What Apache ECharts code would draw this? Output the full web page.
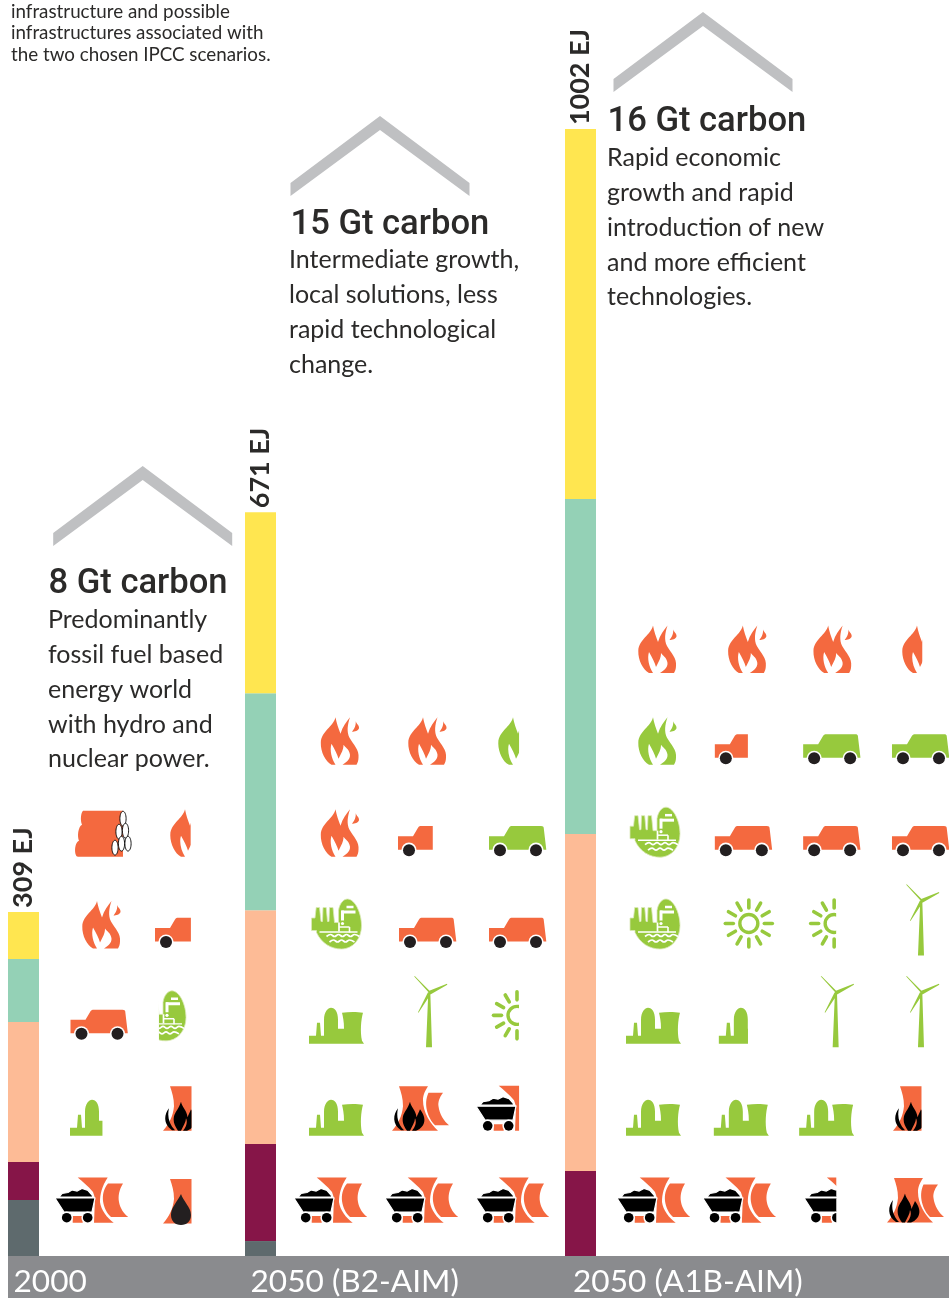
<!DOCTYPE html>
<html><head><meta charset="utf-8"><style>html,body{margin:0;padding:0;background:#fff}#c{width:949px;height:1298px}</style>
<script src="https://cdn.jsdelivr.net/npm/echarts@6/dist/echarts.min.js"></script></head>
<body><div id="c"></div><script>
// ---------- data ----------
const categories = ['2000', '2050 (B2-AIM)', '2050 (A1B-AIM)'];
const totalLabels = ['309 EJ', '671 EJ', '1002 EJ'];
const greyBand   = [49.8, 13.3, 0];
const maroonBand = [33.8, 86.2, 75.6];
const peachBand  = [124.5, 208, 299.6];
const tealBand   = [56, 192.9, 297.8];
const yellowBand = [41.8, 160.9, 328.9];
const axisMax = 1002;
// pictograms, top row first: [glyph, tone, visible share (negative keeps the right part)]
const icons2000 = [
  [['wood','o',1],['flame','o',0.53]],
  [['flame','o',1],['car','o',0.63]],
  [['car','o',1],['hydro','g',-0.55]],
  [['nuclear','g',0.59],['gas','o',0.5]],
  [['coal','o',1],['oil','o',0.5]]
];
const iconsB2 = [
  [['flame','o',1],['flame','o',1],['flame','g',0.54]],
  [['flame','o',1],['car','o',0.61],['car','g',1]],
  [['hydro','g',1],['car','o',1],['car','o',1]],
  [['nuclear','g',1],['wind','g',1],['sun','g',0.54]],
  [['nuclear','g',1],['gas','o',1],['coal','o',0.59]],
  [['coal','o',1],['coal','o',1],['coal','o',1]]
];
const iconsA1B = [
  [['flame','o',1],['flame','o',1],['flame','o',1],['flame','o',0.52]],
  [['flame','g',1],['car','o',0.58],['car','g',1],['car','g',1]],
  [['hydro','g',1],['car','o',1],['car','o',1],['car','o',1]],
  [['hydro','g',1],['sun','g',1],['sun','g',0.54],['wind','g',1]],
  [['nuclear','g',1],['nuclear','g',0.53],['wind','g',1],['wind','g',1]],
  [['nuclear','g',1],['nuclear','g',1],['nuclear','g',1],['gas','o',0.5]],
  [['coal','o',1],['coal','o',1],['coal','o',0.44],['gas','o',1]]
];
const heading = ['8 Gt carbon', '15 Gt carbon', '16 Gt carbon'];
const blurbs = [
  'Predominantly\nfossil fuel based\nenergy world\nwith hydro and\nnuclear power.',
  'Intermediate growth,\nlocal solutions, less\nrapid technological\nchange.',
  'Rapid economic\ngrowth and rapid\nintroduction of new\nand more efficient\ntechnologies.'
];
const intro = 'infrastructure and possible\ninfrastructures associated with\nthe two chosen IPCC scenarios.';

// ---------- layout ----------
const FONT = 'Lato, "Noto Sans", sans-serif';
const HEADFONT = 'Roboto, "Noto Sans", sans-serif';
const ORANGE = '#f4693f', GREEN = '#97c93d', BLACK = '#000', DARK = '#231f20', INK = '#2b2a29';
const bandColors = ['#5e6a6d', '#861548', '#fdbb96', '#94d1b6', '#ffe650'];
const barLeft = [8, 245, 565];
const labelShift = [-10, -10, -7.5];
const iconCols = [{left: 99, step: 88}, {left: 335, step: 90}, {left: 655, step: 88.33}];
const iconSets = [icons2000, iconsB2, iconsA1B];
const nudges = [
  [[4.5, 2.5],[2.5, -3.5],[0, -25.5],[-1.5, 4.5],[-7.5, 4.5]],
  [[5, 2.5, 2.5],[5, 1.5, 2.5],[2, 2.5, 2.5],[1.5, 6, 2],[1.5, -4.5, -2.5],[-4.5, -3.5, -2.5]],
  [[2.5, 4, 1, 1.5],[2.5, 0, 0, 0.5],[0.5, 0, 0, 0.5],[0.5, 5.5, 2.5, 3],[-1.5, 3, 6, 3],[-1.5, -2, -5, 1.5],[-1.5, -4, 9, -4.5]]
];
const chevrons = [[142.7, 466], [380, 116], [703, 12]];
const headPos = [[48.5, 584], [290.5, 225], [607.5, 122]];
const blurbPos = [[48, 603], [289, 243], [607, 141]];

// ---------- glyph shapes (local px) ----------
const shapes = {
  flame: 'M15,0.5 C16,6 18,12 20,17 C22,10 26,5 29.5,0.5 C27,8 26,15 29,21 C33,28 39,33 38,41 C38,44 37,46 36,48 L22,48 C27,45 31,41 29,36 C28,32 25,31 23,28 C23,33 21,36 18,42 C17,38 14,32 11,27 C9,33 11,42 15,48 L11,48 C5,45 0,35 0.3,26 C1,14 13,10 15,0.5 Z M35,3 C35,7 39,8 38.5,11.5 C38,14 34,15 31.5,15 C34,12 36,8 35,3 Z',
  carBody: 'M0,10.5 L15,10.5 L20,2 C21,0.5 22,0.3 23,0.3 L52,0.3 C54,0.3 54.5,1 54.7,2 L57.3,24 L0,24 Z',
  wood: 'M8,0 L48,0 L48,46 L3,46 C-1,46 -1,32 4,30 C2,26 3,16 7,14 C5,9 6,2 8,0 Z',
  hydro: 'M27,12 C28,5 32,0.5 36,0.5 C44,1 50,15 50,27 C50,41 41,50.5 30,50.5 C20,50.5 10,45 5,34 L5,32 L0,32 L0,19.5 L3.5,19.5 L4.7,9 L8,9 L9.5,23 L11,23 L11.5,9 L14.7,9 L16,23 L17.5,23 L18,9 L21.5,9 L23,24 L27,24 Z',
  nuclear: 'M0,36 L0,28 L7,28 L8,15 L11,15 L12,28 L15,28 L15,12 C15,4 19,0 22,0 C26,0 29,4 29,12 L29,21 L35,21 C35,14 34,9 33,5 C40,4 48,4 54,5 C52,12 51,24 53,33 L55,36 Z',
  cart: 'M0,20 L40,20 L37,34 L9,34 Z',
  pile: 'M4,19 L7,15.5 L13,14.5 L17,12 L22,13 L27,10.5 L33,12.5 L37,17 L38,19 Z',
  coalTower: 'M22.7,-0.5 L52.7,-0.5 C47,8 45,16 45,24 C46,32 52,40 58.7,44.7 L39,44.7 L40,20 L38,14 C33,8 28,4 22.7,-0.5 Z M17.7,38 L27.7,38 L27.7,44.7 L17.7,44.7 Z M53,5.5 L68,5.5 C64,12 63,18 64,24 C65,30 69,36 73.3,39 L56,39 C48,32 44,16 53,5.5 Z',
  towers: 'M7,0 L36,0 C32,6 31,10 31,14 C31,26 38,37 46,44.5 L0,44.5 C6,38 10,30 11,20 C11,12 9,6 7,0 Z M36.5,6.5 L51,6.5 C47,12 46,16 46.5,20 C47.5,28 52,35 57,39 L43,39 C36,32 31,18 36.5,6.5 Z',
  oilDrop: 'M18,15 C20,22 28,28 28,36 C28,42 24,46 18,46 C12,46 8,42 8,36 C8,28 15,22 18,15 Z',
  fireC: 'M6,22 C1,28 0,38 9,44 L12,44 C6,38 4,30 6,22 Z M18,15.5 C19,21 24,24 24.5,31 C25.5,28 27,26 28,23 C32,28 34,34 31,39 C29,42 26,44 24,44.5 L20,44.5 C23,41 25,36 23,32 C23,36 20,40 18,44.5 L15,44.5 C11,39 10,35 11,30 C12,26 16,22 18,15.5 Z',
  windBody: 'M14.3,16 L16.3,16 L18,71 L12,71 Z M15,16.5 L0,0 L1,0 L16,15 Z M14,15 L33,7.5 L33.3,8.5 L16,18.5 Z M14,16 L16,19 L4.5,36.5 L4,36 Z'
};
Object.keys(shapes).forEach(k => echarts.graphic.registerShape('g_' + k, echarts.graphic.extendPath(shapes[k])));
const fill = (n, c) => ({type: 'g_' + n, style: {fill: c}});
const wheel = (x, y, r, ring, col) => [
  {type: 'circle', shape: {cx: x, cy: y, r: r + ring}, style: {fill: '#fff'}},
  {type: 'circle', shape: {cx: x, cy: y, r: r}, style: {fill: col}}
];
const line = (x1, y1, x2, y2, w, c, cap) => ({type: 'line', shape: {x1, y1, x2, y2}, style: {stroke: c, lineWidth: w, lineCap: cap || 'butt'}});
const wave = pts => ({type: 'polyline', shape: {points: pts, smooth: 0.4}, style: {stroke: '#fff', fill: 'none', lineWidth: 1.7}});
const glyphs = {
  flame: {w: 39, h: 48, base: 0, parts: c => [fill('flame', c)]},
  car: {w: 57, h: 31, base: 0, parts: c => [fill('carBody', c), ...wheel(11, 24.5, 6, 1.6, DARK), ...wheel(47, 24.5, 6, 1.6, DARK)]},
  wood: {w: 57, h: 46, base: 0, parts: c => {
    const e = [[48, 8], [44, 21], [50.5, 20], [40, 37], [46.5, 33], [53, 33]];
    return [fill('wood', c)].concat(e.map(p => ({type: 'ellipse', shape: {cx: p[0], cy: p[1], rx: 3.1, ry: 7.4}, style: {fill: '#fff', stroke: '#000', lineWidth: 0.9}})));
  }},
  hydro: {w: 51, h: 51, base: 1, parts: c => [
    {type: 'g_hydro', style: {fill: c, stroke: '#dbe9b8', lineWidth: 0.8}},
    line(30, 13.5, 44, 13.5, 3, '#fff'), line(31, 12, 31, 22, 3, '#fff'), line(35, 8.5, 42, 8.5, 2.5, '#fff'),
    {type: 'circle', shape: {cx: 31, cy: 25, r: 1.6}, style: {fill: '#fff'}},
    line(27.5, 24, 27.5, 33, 1.7, '#fff'), line(27.5, 28.5, 38, 28.5, 1.5, '#fff'), line(38, 28.5, 38, 34, 1.6, '#fff'),
    line(8, 33.5, 46, 33.5, 1.4, '#fff'),
    wave([[15, 38], [19, 36], [23, 38], [27, 36], [31, 38], [35, 36], [39, 38], [43, 36], [48, 38]]),
    wave([[18, 43.5], [22, 41.5], [26, 43.5], [30, 41.5], [34, 43.5], [38, 41.5], [43, 43.5]])
  ]},
  nuclear: {w: 55, h: 36, base: 3.5, parts: c => [fill('nuclear', c)]},
  coal: {w: 73, h: 46, base: 0, parts: c => [
    fill('coalTower', c),
    {type: 'g_pile', style: {fill: BLACK, stroke: '#fff', lineWidth: 1.2}},
    {type: 'g_cart', style: {fill: BLACK, stroke: '#fff', lineWidth: 1.2}},
    ...wheel(11.7, 39.7, 4.8, 1.5, BLACK), ...wheel(32.7, 39.7, 4.8, 1.5, BLACK)
  ]},
  gas: {w: 57, h: 46, base: 0, parts: c => [fill('towers', c), fill('fireC', BLACK)]},
  oil: {w: 57, h: 46, base: 1, parts: c => [fill('towers', c), fill('oilDrop', DARK)]},
  wind: {w: 34, h: 72, base: 8, parts: c => [fill('windBody', c)]},
  sun: {w: 50, h: 50, base: 0, parts: c => {
    const out = [{type: 'circle', shape: {cx: 25, cy: 25, r: 9}, style: {fill: 'none', stroke: c, lineWidth: 3.4}}];
    for (let i = 0; i < 12; i++) {
      const a = i * Math.PI / 6, s = Math.sin(a), k = Math.cos(a);
      out.push(line(25 + 15.5 * k, 25 + 15.5 * s, 25 + 23.5 * k, 25 + 23.5 * s, 3.6, c, 'round'));
    }
    return out;
  }}
};

// ---------- option ----------
const grids = [], xAxes = [], yAxes = [], series = [];
categories.forEach((cat, p) => {
  grids.push({left: barLeft[p], width: 31, top: 129, height: 1127});
  xAxes.push({type: 'category', gridIndex: p, data: [cat], axisLine: {show: false}, axisTick: {show: false},
    axisLabel: {color: '#fff', fontFamily: FONT, fontSize: 31.6, align: 'left', margin: 10, padding: [0, 0, 0, labelShift[p]], verticalAlign: 'top', interval: 0, hideOverlap: false}});
  yAxes.push({type: 'value', gridIndex: p, min: 0, max: axisMax, show: false});
  [greyBand, maroonBand, peachBand, tealBand, yellowBand].forEach((band, b) => {
    const s = {type: 'bar', name: ['Grey', 'Maroon', 'Peach', 'Teal', 'Yellow'][b], xAxisIndex: p, yAxisIndex: p, stack: 'e' + p,
      barWidth: 31, data: [band[p]], itemStyle: {color: bandColors[b]}, silent: true, animation: false};
    if (b === 4) s.label = {show: true, position: 'top', distance: 4, rotate: 90, align: 'left', verticalAlign: 'middle', formatter: () => totalLabels[p],
      fontFamily: FONT, fontSize: 27, fontWeight: 700, color: INK};
    series.push(s);
  });
});
iconSets.forEach((set, p) => {
  const idx = grids.length, nRows = set.length, nCols = set[0].length;
  const step = iconCols[p].step, rowStep = 91.83;
  grids.push({left: iconCols[p].left, width: step * (nCols - 1), top: 1224 - rowStep * (nRows - 1), height: rowStep * (nRows - 1)});
  xAxes.push({type: 'value', gridIndex: idx, min: 0, max: nCols - 1, show: false});
  yAxes.push({type: 'value', gridIndex: idx, min: 0, max: nRows - 1, show: false});
  const pts = [], meta = [];
  set.forEach((row, r) => row.forEach((it, c) => {
    pts.push([c, nRows - 1 - r]);
    meta.push({it, dx: nudges[p][r][c]});
  }));
  series.push({type: 'custom', coordinateSystem: 'cartesian2d', xAxisIndex: idx, yAxisIndex: idx, data: pts, clip: false, silent: true, animation: false,
    renderItem: (params, api) => {
      const pos = api.coord([api.value(0), api.value(1)]);
      const m = meta[params.dataIndex], g = glyphs[m.it[0]], share = m.it[2];
      const el = {type: 'group', x: pos[0] - g.w / 2 + m.dx, y: pos[1] - g.h + g.base,
        children: g.parts(m.it[1] === 'o' ? ORANGE : GREEN)};
      if (share !== 1) {
        const vis = g.w * Math.abs(share);
        el.clipPath = {type: 'rect', shape: {x: share > 0 ? -3 : g.w - vis, y: -4, width: vis + 3, height: g.h + 8}};
      }
      return el;
    }});
});

const graphic = [
  {type: 'rect', z: -1, shape: {x: 8, y: 1256, width: 941, height: 42}, style: {fill: '#8a8b8e'}},
  {type: 'text', x: 11, y: 1, style: {text: intro, font: '18.8px ' + FONT, lineHeight: 21.6, fill: INK}}
];
chevrons.forEach(a => graphic.push({type: 'polygon', x: a[0], y: a[1],
  shape: {points: [[-89.5, 67], [0, 0], [89.5, 67], [89.5, 80], [0, 14], [-89.5, 80]]}, style: {fill: '#bfc0c2'}}));
heading.forEach((h, i) => {
  graphic.push({type: 'text', x: headPos[i][0], y: headPos[i][1], style: {text: h, font: '500 34.6px ' + HEADFONT, fill: INK, verticalAlign: 'middle'}});
  graphic.push({type: 'text', x: blurbPos[i][0], y: blurbPos[i][1], style: {text: blurbs[i], font: '25px ' + FONT, lineHeight: 34.7, fill: INK}});
});

const chart = echarts.init(document.getElementById('c'), null, {renderer: 'canvas'});
chart.setOption({animation: false, backgroundColor: '#fff', grid: grids, xAxis: xAxes, yAxis: yAxes, series, graphic});
</script></body></html>
